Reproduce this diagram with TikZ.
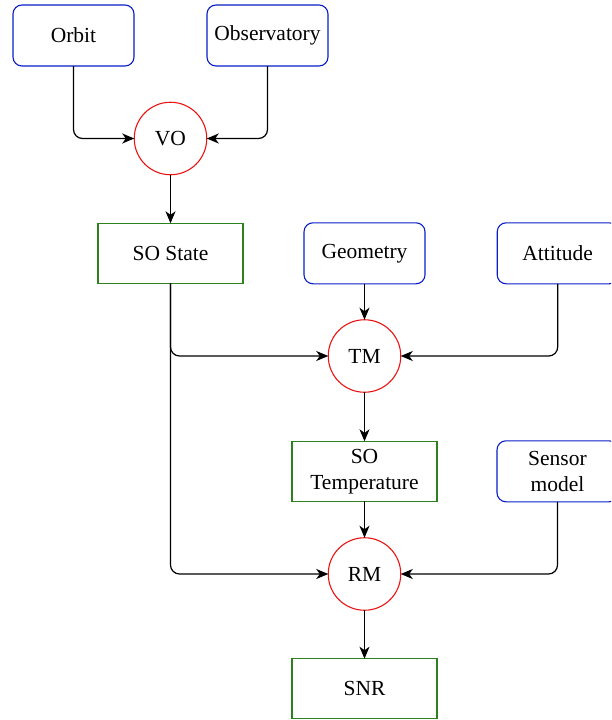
\documentclass[tikz,border=0pt]{standalone}
\usepackage{fontspec}
\setmainfont{Liberation Serif}
\usetikzlibrary{arrows.meta}
\definecolor{bblue}{RGB}{10,30,200}
\definecolor{rred}{RGB}{235,20,20}
\definecolor{ggreen}{RGB}{45,130,30}
\begin{document}
\begin{tikzpicture}[x=1pt,y=-1pt,
  every node/.style={font=\fontsize{21.5}{25}\selectfont, inner sep=0pt, outer sep=0pt, align=center},
  inbox/.style={draw=bblue, line width=1.1pt, rounded corners=9pt, fill=white, minimum width=121pt, minimum height=61pt},
  outbox/.style={draw=ggreen, line width=1.1pt, fill=white, minimum width=145pt, minimum height=60pt},
  model/.style={draw=rred, line width=1.1pt, circle, fill=white, minimum size=72.5pt},
  arr/.style={line width=1.2pt, rounded corners=9pt, -{Stealth[length=12pt,width=10pt,inset=3.5pt]}}]
\clip (0,0) rectangle (611,720);
\fill[white] (0,0) rectangle (611,720);
\node[inbox] (orbit) at (73.5,35.5) {Orbit};
\node[inbox] (obs) at (267.5,35.5) {Observatory};
\node[model] (vo) at (170.5,138.5) {VO};
\node[outbox] (sostate) at (170.5,253.3) {SO State};
\node[inbox] (geom) at (364.5,253.3) {Geometry};
\node[inbox] (att) at (557.7,253.3) {Attitude};
\node[model] (tm) at (364.5,356) {TM};
\node[outbox] (sotemp) at (364.5,471.3) {SO\\[1pt]Temperature};
\node[inbox] (sensor) at (557.5,471.3) {Sensor\\[1pt]model};
\node[model] (rm) at (364.5,574) {RM};
\node[outbox] (snr) at (364.5,688.7) {SNR};
\draw[arr] (orbit.south) |- (vo.west);
\draw[arr] (obs.south) |- (vo.east);
\draw[arr] (vo.south) -- (sostate.north);
\draw[arr] (sostate.south) |- (tm.west);
\draw[arr] (geom.south) -- (tm.north);
\draw[arr] (att.south) |- (tm.east);
\draw[arr] (tm.south) -- (sotemp.north);
\draw[arr] (sostate.south) |- (rm.west);
\draw[arr] (sotemp.south) -- (rm.north);
\draw[arr] (sensor.south) |- (rm.east);
\draw[arr] (rm.south) -- (snr.north);
\end{tikzpicture}
\end{document}
